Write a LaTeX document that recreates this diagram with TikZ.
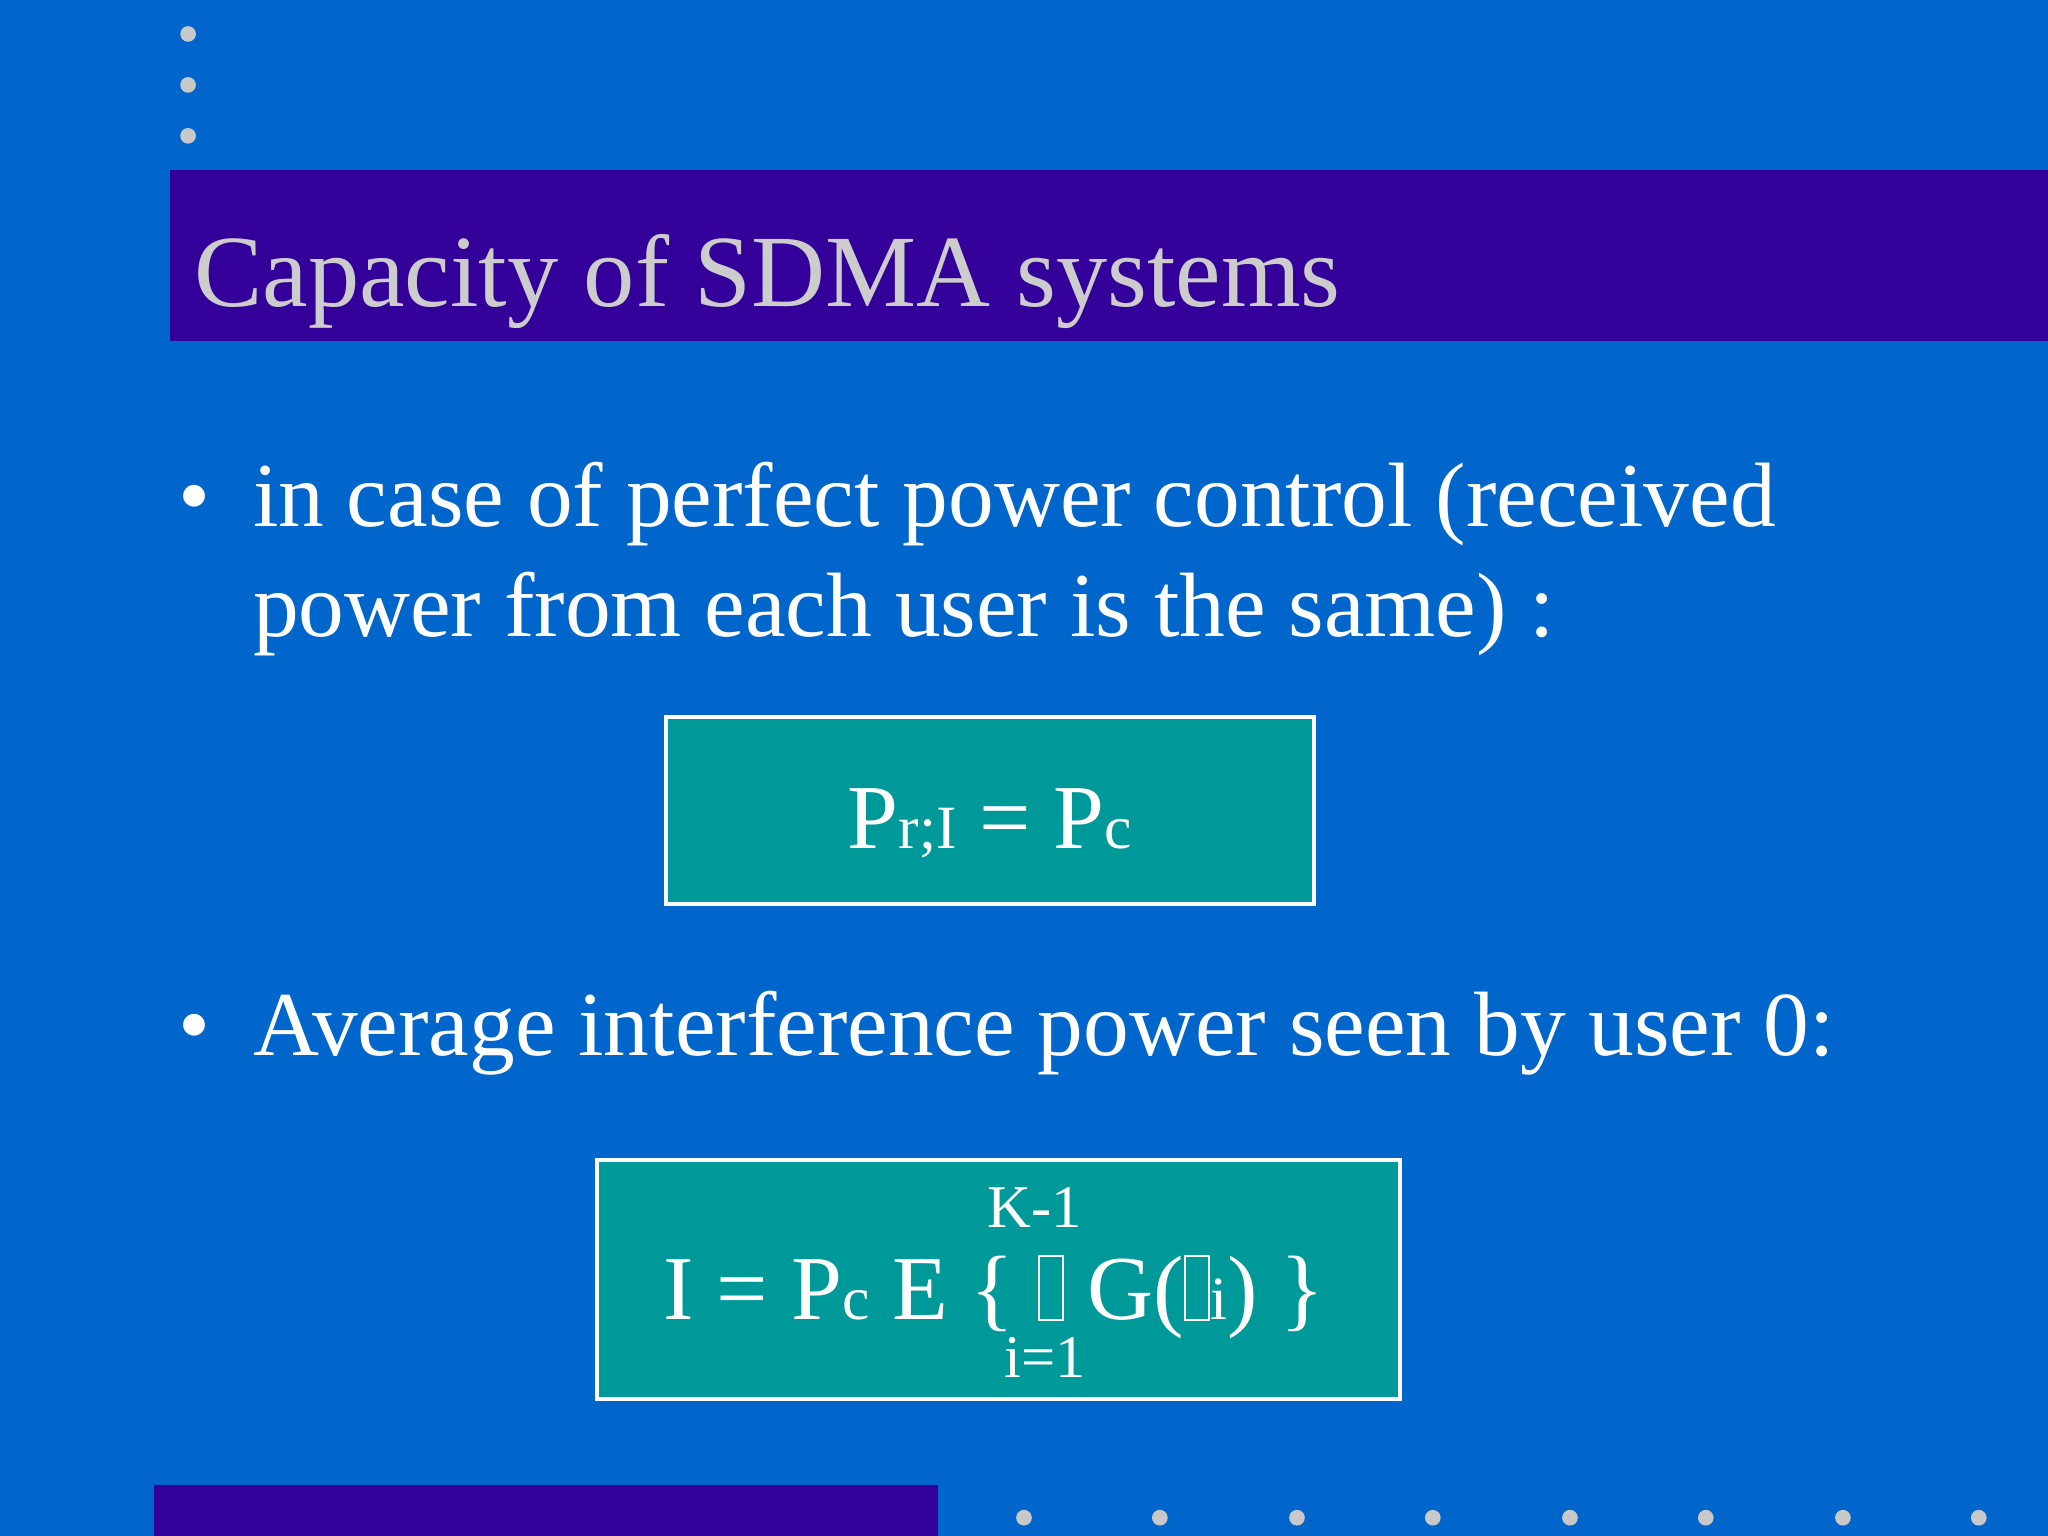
\documentclass[tikz,border=0pt]{standalone}
\usepackage{fontspec}
\setmainfont{Liberation Serif}
\definecolor{bg}{HTML}{0066CC}
\definecolor{band}{HTML}{330099}
\definecolor{teal}{HTML}{009999}
\definecolor{ttl}{HTML}{CCCCCC}
\definecolor{dot}{HTML}{C8C8C8}
\newcommand\tofu{{\setlength{\fboxsep}{0pt}\setlength{\fboxrule}{0.5pt}\fbox{\rule{0pt}{0.68em}\hspace{0.24em}}}}
\newcommand\bigtxt{\fontsize{19.9}{24}\selectfont}
\newcommand\sml{\fontsize{13.4}{16}\selectfont}
\tikzset{dotc/.style={fill=dot,draw=none},
 eqbox/.style={fill=teal,draw=white,line width=0.8pt},
 txt/.style={text=white,inner sep=0pt,anchor=base west,font=\bigtxt}}
\begin{document}
\begin{tikzpicture}[x=0.01cm,y=-0.01cm]
\fill[bg] (0,0) rectangle (1568,1176);
\useasboundingbox (0,0) rectangle (1568,1176);
\foreach \y in {26,65,104} \fill[dotc] (144,\y) circle (6);
\fill[band] (130,130) rectangle (1568,261);
\node[txt,text=ttl,font=\fontsize{22.3}{28}\selectfont] (title) at (148,235) {Capacity of SDMA systems};
\node[txt] (b1) at (136,403) {•};
\node[txt] (l1) at (193,403) {in case of perfect power control (received};
\node[txt] (l2) at (193,487) {power from each user is the same) :};
\draw[eqbox] (510,549) rectangle (1006,692);
\node[txt,anchor=base] (e1) at (758,650) {P{\sml r;I} = P{\sml c}};
\node[txt] (b2) at (136,808) {•};
\node[txt] (l3) at (193,808) {Average interference power seen by user 0:};
\draw[eqbox] (457,888) rectangle (1072,1071);
\node[txt,anchor=base] (e2) at (761,1010) {I = P{\sml c} E \{ \tofu{} G(\tofu{}{\sml i}) \}};
\node[txt,anchor=base,font=\fontsize{13.2}{16}\selectfont] (k) at (792,940) {K-1};
\node[txt,anchor=base,font=\fontsize{13.2}{16}\selectfont] (i1) at (800,1055) {i=1};
\fill[band] (118,1137) rectangle (718,1176);
\foreach \x in {784,888,993,1097,1202,1306,1411,1515} \fill[dotc] (\x,1162) circle (6);
\end{tikzpicture}
\end{document}
